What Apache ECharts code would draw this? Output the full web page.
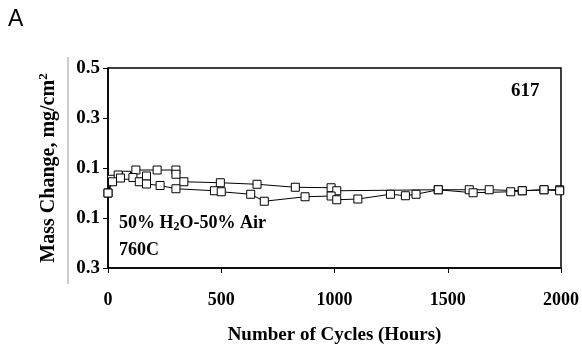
<!DOCTYPE html>
<html>
<head>
<meta charset="utf-8">
<script src="https://cdn.jsdelivr.net/npm/echarts@6/dist/echarts.min.js"></script>
<style>
  html, body { margin: 0; padding: 0; background: #fff; }
  #chart { width: 582px; height: 352px; }
</style>
</head>
<body>
<div id="chart"></div>
<script>
// sample 1 (upper trace)
const hours1 = [0, 16, 45, 82, 123, 217, 300, 300, 335, 496, 658, 827, 985, 1010, 1458, 1595, 1683, 1829, 1925, 1994];
const mass1 = [0.0, 0.055, 0.072, 0.071, 0.092, 0.092, 0.092, 0.075, 0.045, 0.041, 0.035, 0.023, 0.021, 0.009, 0.013, 0.013, 0.013, 0.009, 0.013, 0.013];
// sample 2 (lower trace)
const hours2 = [0, 20, 55, 110, 138, 170, 170, 230, 300, 470, 500, 630, 690, 870, 985, 1010, 1103, 1247, 1313, 1360, 1458, 1612, 1778, 1829, 1925, 1994];
const mass2 = [0.0, 0.045, 0.06, 0.062, 0.045, 0.068, 0.036, 0.03, 0.017, 0.009, 0.005, -0.005, -0.033, -0.015, -0.012, -0.027, -0.024, -0.005, -0.011, -0.005, 0.013, 0.001, 0.005, 0.009, 0.013, 0.009];
const xTicks = [0, 500, 1000, 1500, 2000];
const yTickLabels = ['0.3', '0.1', '0.1', '0.3', '0.5'];

const serif = '"Liberation Serif", "Times New Roman", serif';
const chart = echarts.init(document.getElementById('chart'));

const pairs = (xs, ys) => xs.map((x, i) => [x, ys[i]]);
const lineSeries = (name, data) => ({
    name: name,
    type: 'line',
    data: data,
    symbol: 'rect',
    symbolSize: 8,
    showSymbol: true,
    lineStyle: {color: '#000', width: 1},
    itemStyle: {color: '#fff', borderColor: '#000', borderWidth: 1},
    silent: true
});

chart.setOption({
    animation: false,
    backgroundColor: '#fff',
    textStyle: {fontFamily: serif},
    grid: {
        left: 108, top: 68, width: 454, height: 200,
        show: true, borderColor: '#000', borderWidth: 1.5
    },
    xAxis: {
        type: 'value',
        min: 0, max: 2000, interval: 500,
        axisLine: {show: true, onZero: false, lineStyle: {color: '#000', width: 1.5}},
        axisTick: {show: true, length: 5, lineStyle: {color: '#000'}},
        splitLine: {show: false},
        axisLabel: {
            margin: 23, color: '#000', fontFamily: serif, fontWeight: 'bold', fontSize: 18,
            formatter: (v) => xTicks.includes(v) ? String(v) : ''
        },
        name: 'Number of Cycles (Hours)',
        nameLocation: 'middle',
        nameGap: 58,
        nameTextStyle: {color: '#000', fontFamily: serif, fontWeight: 'bold', fontSize: 19}
    },
    yAxis: {
        type: 'value',
        min: -0.3, max: 0.5, interval: 0.2,
        axisLine: {show: true, onZero: false, lineStyle: {color: '#000', width: 1.5}},
        axisTick: {show: true, length: 5, lineStyle: {color: '#000'}},
        splitLine: {show: false},
        axisLabel: {
            margin: 8, color: '#000', fontFamily: serif, fontWeight: 'bold', fontSize: 19,
            formatter: (v) => yTickLabels[Math.round((v + 0.3) / 0.2)] || ''
        },
        name: 'Mass Change, mg/cm{sup|2}',
        nameLocation: 'middle',
        nameGap: 48,
        nameTextStyle: {
            color: '#000', fontFamily: serif, fontWeight: 'bold', fontSize: 20,
            rich: {sup: {fontFamily: serif, fontWeight: 'bold', fontSize: 13, verticalAlign: 'top', color: '#000', padding: [0, 0, 10, 0]}}
        }
    },
    graphic: [
        {type: 'text', left: 8, top: 8, style: {text: 'A', font: '23px "Liberation Sans", Arial, sans-serif', fill: '#000'}},
        {type: 'line', shape: {x1: 68, y1: 57, x2: 68, y2: 284}, style: {stroke: '#999', lineWidth: 1}},
        {type: 'text', left: 511, top: 82, style: {text: '617', font: 'bold 19px ' + serif, fill: '#000'}},
        {type: 'text', left: 119, top: 214, style: {
            text: '50% H{sub|2}O-50% Air', font: 'bold 18px ' + serif, fill: '#000',
            rich: {sub: {fontFamily: serif, fontWeight: 'bold', fontSize: 12, verticalAlign: 'bottom', padding: [7, 0, 0, 0], fill: '#000'}}
        }},
        {type: 'text', left: 119, top: 241, style: {text: '760C', font: 'bold 18px ' + serif, fill: '#000'}}
    ],
    series: [
        lineSeries('sample 1', pairs(hours1, mass1)),
        lineSeries('sample 2', pairs(hours2, mass2))
    ]
});
</script>
</body>
</html>
